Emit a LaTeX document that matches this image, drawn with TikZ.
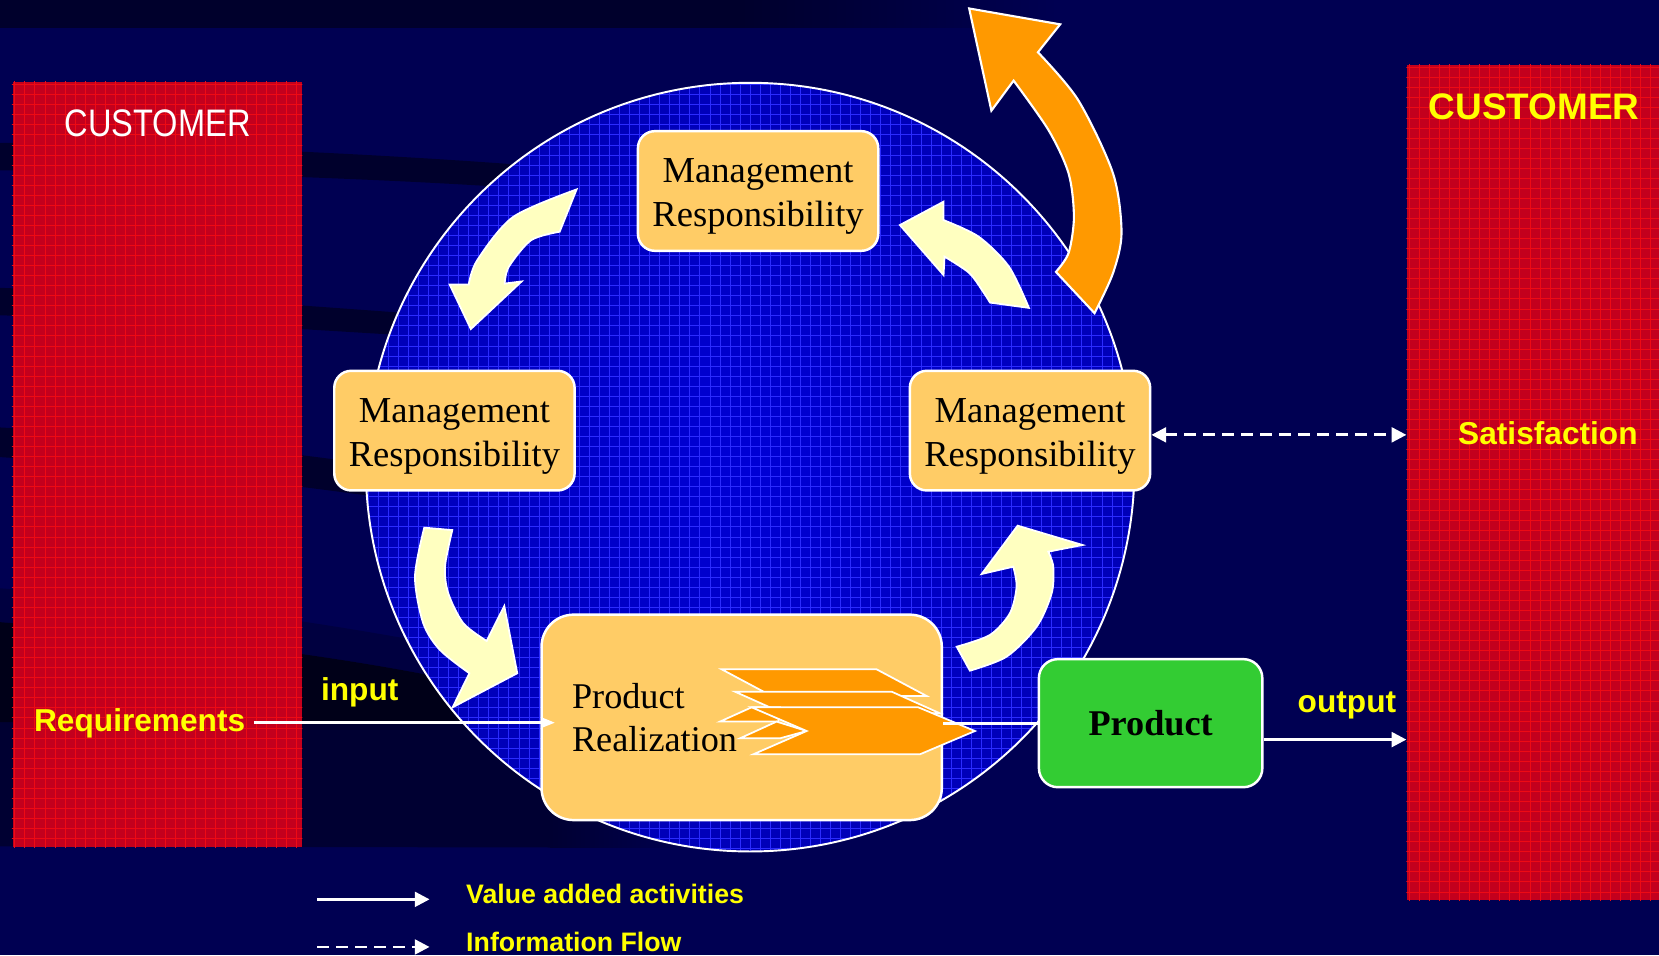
\documentclass[tikz,border=0pt]{standalone}
\usepackage{fontspec}
\setmainfont{Liberation Serif}
\newfontfamily\headsans{Liberation Sans}
\newfontfamily\narrowsans[FakeStretch=0.85]{Liberation Sans}
\usetikzlibrary{arrows.meta}

\definecolor{navy}{HTML}{000052}
\definecolor{deepnavy}{HTML}{00002C}
\definecolor{midnavy}{HTML}{000040}
\definecolor{inknavy}{HTML}{000018}
\definecolor{lownavy}{HTML}{000032}
\definecolor{crimson}{HTML}{C3001D}
\definecolor{crimsongrid}{HTML}{EE0A14}
\definecolor{discblue}{HTML}{0000B8}
\definecolor{discbright}{HTML}{0000D6}
\definecolor{discgrid}{HTML}{2B2BFF}
\definecolor{boxorange}{HTML}{FFCC66}
\definecolor{prodgreen}{HTML}{33CC33}
\definecolor{paleyellow}{HTML}{FFFFC0}
\definecolor{deeporange}{HTML}{FF9900}
\definecolor{labelyellow}{HTML}{FFFF00}

\begin{document}
\begin{tikzpicture}[x=0.010581cm, y=-0.010581cm,
  panel/.style={fill=crimson, inner sep=0pt, draw=none},
  redline/.style={draw=crimsongrid, line width=0.25pt},
  blueline/.style={draw=discgrid, line width=0.25pt},
  mgmt/.style={draw=white, line width=0.7pt, fill=boxorange, rounded corners=0.17cm,
    minimum width=2.402cm, minimum height=1.196cm, inner sep=0pt},
  mgmttext/.style={inner sep=0pt, anchor=base, align=center,
    font=\fontsize{10.4pt}{12.6pt}\selectfont},
  prbox/.style={draw=white, line width=0.7pt, fill=boxorange, rounded corners=0.32cm,
    minimum width=4.0cm, minimum height=2.053cm, inner sep=0pt},
  prodbox/.style={draw=white, line width=0.7pt, fill=prodgreen, rounded corners=0.19cm,
    minimum width=2.233cm, minimum height=1.28cm, inner sep=0pt,
    font=\fontsize{10.3pt}{12pt}\selectfont\bfseries},
  cyclearrow/.style={fill=paleyellow, draw=white, line width=0.5pt, line join=miter},
  exitarrow/.style={fill=deeporange, draw=white, line width=0.6pt, line join=miter},
  chevshape/.style={fill=deeporange, draw=white, line width=0.5pt, line join=miter},
  yellowtag/.style={inner sep=0pt, anchor=base, text=labelyellow,
    font=\headsans\bfseries\fontsize{9pt}{11pt}\selectfont},
  legendtag/.style={inner sep=0pt, anchor=base west, text=labelyellow,
    font=\headsans\bfseries\fontsize{7.6pt}{9pt}\selectfont},
  valarrow/.style={draw=white, line width=0.8pt, -{Triangle[length=4.2pt,width=4.2pt]}},
  inarrow/.style={draw=white, line width=0.8pt, -{Triangle[length=4pt,width=2.9pt]}},
  plainline/.style={draw=white, line width=0.8pt},
  infoarrow/.style={draw=white, line width=0.8pt, dash pattern=on 3.2pt off 2.2pt,
    {Triangle[length=4.2pt,width=4.2pt]}-{Triangle[length=4.2pt,width=4.2pt]}},
  infoline/.style={draw=white, line width=0.8pt, dash pattern=on 3.2pt off 2.2pt,
    -{Triangle[length=4.2pt,width=4.2pt]}}
]
\useasboundingbox (0,0) rectangle (1568,903);

% backdrop and its darker sweeps
\fill[navy] (0,0) rectangle (1568,903);
\fill[deepnavy] (0,0) rectangle (700,26);
\shade[left color=deepnavy, right color=navy] (700,0) rectangle (1000,26);
\fill[deepnavy] (0,135) .. controls (150,136) and (350,145) .. (495,156)
  -- (495,178) .. controls (350,168) and (150,162) .. (0,161) -- cycle;
\fill[deepnavy] (0,272) .. controls (150,278) and (300,290) .. (400,297)
  -- (400,318) .. controls (300,312) and (150,302) .. (0,298) -- cycle;
\fill[deepnavy] (0,404) .. controls (120,410) and (250,425) .. (360,440)
  -- (360,470) .. controls (250,455) and (120,440) .. (0,432) -- cycle;
% lower sweep: a soft band, a very dark wedge down to the input line, a dim floor
\fill[midnavy] (0,556) .. controls (120,565) and (250,578) .. (430,612)
  -- (440,645) .. controls (330,622) and (200,604) .. (0,588) -- cycle;
\fill[inknavy] (0,588) .. controls (200,604) and (330,622) .. (440,645)
  -- (470,683) -- (0,683) -- cycle;
\fill[lownavy] (0,683) -- (520,683) -- (520,801) -- (0,800) -- cycle;
\shade[left color=lownavy, right color=navy] (520,740) rectangle (660,801);

% customer panels with their fine grid
\node[panel, minimum width=2.889cm, minimum height=7.640cm] (custL) at (148.5,439) {};
\begin{scope}
  \clip (custL.north west) rectangle (custL.south east);
  \foreach \g in {14,23.5,...,290} \draw[redline] (\g,70) -- (\g,810);
  \foreach \g in {80,89.5,...,805} \draw[redline] (0,\g) -- (300,\g);
\end{scope}
\node[panel, minimum width=2.54cm, minimum height=8.338cm] (custR) at (1450,456) {};
\begin{scope}
  \clip (custR.north west) rectangle (custR.south east);
  \foreach \g in {1332,1341.5,...,1575} \draw[redline] (\g,55) -- (\g,860);
  \foreach \g in {64,73.5,...,855} \draw[redline] (1320,\g) -- (1580,\g);
\end{scope}

% the process disc
\node[circle, minimum size=7.682cm, inner sep=0pt] (disc) at (709,441.5) {};
\begin{scope}
  \clip (709,441.5) circle[radius=3.841cm];
  \shade[inner color=discbright, outer color=discblue] (709,441.5) circle[radius=3.841cm];
  \foreach \g in {348,357.5,...,1075} \draw[blueline] (\g,70) -- (\g,810);
  \foreach \g in {80,89.5,...,810} \draw[blueline] (340,\g) -- (1080,\g);
\end{scope}
\draw[white, line width=0.55pt] (709,441.5) circle[radius=3.841cm];

% improvement arrow leaving the disc
\path[exitarrow] plot[smooth] coordinates {(1034.5,296) (1052,258) (1060,220) (1052,164) (1019,94.5) (981,49.4)}
  -- (1002,23) -- (916,8) -- (937,104.6)
  -- plot[smooth] coordinates {(958,76.2) (991,123) (1010,164) (1015,205) (1010,239) (998,257)}
  -- cycle;

% curved arrows of the cycle
\path[cyclearrow] plot[smooth] coordinates {(545,179) (485,205) (451,246) (443,269)}
  -- (425,269) -- (445,311) -- (493,266)
  -- plot[smooth] coordinates {(477,268) (481,252) (502,227) (529,219)} -- cycle;
\path[cyclearrow] plot[smooth] coordinates {(972.5,291) (953.6,252) (925,223.7) (891.8,208)}
  -- (891.8,190.6) -- (850.5,212.7) -- (891.8,260)
  -- plot[smooth] coordinates {(892.7,242.6) (916,258) (930,277) (935.7,286)} -- cycle;
\path[cyclearrow] plot[smooth] coordinates {(401,498.7) (392.2,545) (400,589) (415.8,614.3) (443.6,636.3)}
  -- (427.8,668.5) -- (488.9,636.3) -- (476.6,572.7)
  -- plot[smooth] coordinates {(460,605.8) (437.9,589) (423.7,560.8) (420.6,535.5) (427.5,501)} -- cycle;
\path[cyclearrow] plot[smooth] coordinates {(916.7,633.9) (951.4,620.6) (979.8,592.3) (994,560.7) (995.5,535.6) (990.8,521.4)}
  -- (1023.2,515.1) -- (961.8,496.8) -- (927.8,542.5)
  -- plot[smooth] coordinates {(957.7,535.6) (960.8,554.5) (954.5,579.6) (935.6,600.1) (904.2,611.2)} -- cycle;

% boxes
\node[mgmt] (mrTop) at (716.5,180.5) {};
\node[mgmt] (mrLeft) at (429.5,407) {};
\node[mgmt] (mrRight) at (973.5,407) {};
\node[mgmttext] (mrTopText) at (716.5,214.5) {Management\\Responsibility};
\node[mgmttext] (mrLeftText) at (429.5,441) {Management\\Responsibility};
\node[mgmttext] (mrRightText) at (973.5,441) {Management\\Responsibility};
\node[prbox] (pr) at (701,678) {};
\node[prodbox] (green) at (1087.5,683.5) {Product};
\node[inner sep=0pt, anchor=base west, align=left,
  font=\fontsize{10.3pt}{12.3pt}\selectfont] (prlabel) at (540,710.4) {Product\\Realization};

% stacked chevrons in the realization box
\path[chevshape] (682.1,632.6) -- (828.5,632.6) -- (875.8,657.8) -- (729.3,657.8) -- cycle;
\path[chevshape] (694.6,653.7) -- (842.7,653.7) -- (888.4,674.2) -- (740.3,674.2) -- cycle;
\path[chevshape] (680.5,682) -- (710.4,668.5) -- (737.2,668.5) -- (735.6,682) -- cycle;
\path[chevshape] (699.4,697.8) -- (734,682) -- (762.4,690.9) -- (737.2,697.8) -- cycle;
\path[chevshape] (710.4,668.5) -- (867.9,668.5) -- (921.5,690.9) -- (869.5,712.9)
  -- (712,712.9) -- (762.4,690.9) -- cycle;

% labels
\node[inner sep=0pt, anchor=base, text=white,
  font=\narrowsans\fontsize{10.9pt}{13pt}\selectfont] (custLtitle) at (149,128.6) {CUSTOMER};
\node[yellowtag, font=\headsans\bfseries\fontsize{10.5pt}{12pt}\selectfont] (custRtitle) at (1450,113.4) {CUSTOMER};
\node[yellowtag] (satis) at (1463,420) {Satisfaction};
\node[yellowtag] (req) at (132,691.5) {Requirements};
\node[yellowtag] (inlabel) at (340,661.6) {input};
\node[yellowtag] (outlabel) at (1273,673.5) {output};

% flows
\coordinate (reqlevel) at (240,683);
\coordinate (outlevel) at (1260,699);
\coordinate (infolevel) at (1200,411);
\draw[inarrow, shorten >=-4.2pt] (reqlevel) -- (reqlevel -| pr.west);
\draw[plainline] (pr.east |- green.west) -- (green.west);
\draw[valarrow] (green.east |- outlevel) -- (custR.west |- outlevel);
\draw[infoarrow] (mrRight.east |- infolevel) -- (custR.west |- infolevel);

% legend
\coordinate (lgSolidA) at (300,850);
\coordinate (lgSolidB) at (406,850);
\coordinate (lgDashA) at (300,895);
\coordinate (lgDashB) at (406,895);
\draw[valarrow] (lgSolidA) -- (lgSolidB);
\draw[infoline] (lgDashA) -- (lgDashB);
\node[legendtag] (lgSolidText) at (440,853.7) {Value added activities};
\node[legendtag] (lgDashText) at (440,899.4) {Information Flow};
\end{tikzpicture}
\end{document}
